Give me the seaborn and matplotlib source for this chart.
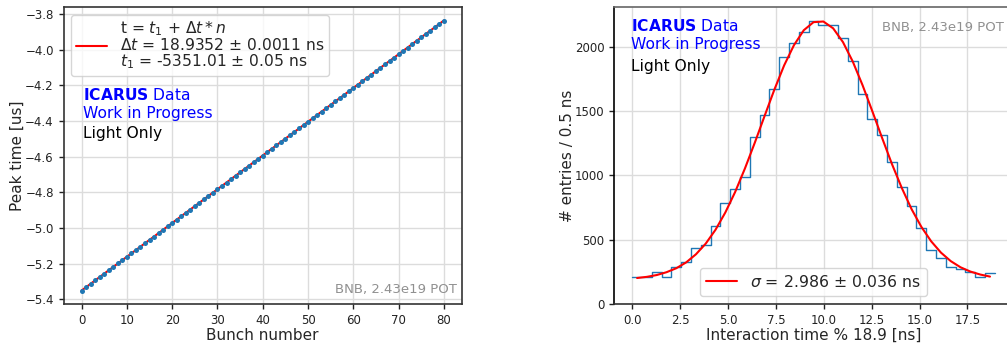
import numpy as np
import pandas as pd
import matplotlib
matplotlib.use("Agg")
import matplotlib.pyplot as plt
import seaborn as sns

# ---------------- data ----------------
bunch_number = list(range(0, 81))
peak_time_us = [
    -5.3510, -5.3321, -5.3131, -5.2942, -5.2753, -5.2563, -5.2374, -5.2185, -5.1995, -5.1806,
    -5.1617, -5.1427, -5.1238, -5.1049, -5.0859, -5.0670, -5.0481, -5.0291, -5.0102, -4.9912,
    -4.9723, -4.9534, -4.9344, -4.9155, -4.8966, -4.8776, -4.8587, -4.8398, -4.8208, -4.8019,
    -4.7830, -4.7640, -4.7451, -4.7262, -4.7072, -4.6883, -4.6693, -4.6504, -4.6315, -4.6125,
    -4.5936, -4.5747, -4.5557, -4.5368, -4.5179, -4.4989, -4.4800, -4.4611, -4.4421, -4.4232,
    -4.4042, -4.3853, -4.3664, -4.3474, -4.3285, -4.3096, -4.2906, -4.2717, -4.2528, -4.2338,
    -4.2149, -4.1960, -4.1770, -4.1581, -4.1392, -4.1202, -4.1013, -4.0824, -4.0634, -4.0445,
    -4.0255, -4.0066, -3.9877, -3.9687, -3.9498, -3.9309, -3.9119, -3.8930, -3.8741, -3.8551,
    -3.8362,
]
fit_time_us = list(peak_time_us)

hist_counts = [207, 207, 248, 212, 288, 324, 433, 458, 606, 782,
               892, 990, 1295, 1469, 1668, 1917, 2030, 2116, 2199,
               2168, 2168, 2069, 1888, 1629, 1435, 1313, 1101, 912, 761,
               593, 420, 355, 285, 272, 251, 212, 243]
hist_range_ns = (0.0, 18.9352)

gauss_fit = [202, 211, 225, 247, 278, 323, 386, 469, 577, 711,
             870, 1053, 1252, 1460, 1665, 1854, 2011, 2127, 2190,
             2195, 2142, 2035, 1884, 1700, 1497, 1289, 1087, 902, 737,
             599, 487, 399, 333, 285, 252, 229, 213]

left_legend = "t = $t_1$ + $\\Delta t*n$\n$\\Delta t$ = 18.9352 ± 0.0011 ns\n$t_1$ = -5351.01 ± 0.05 ns"
right_legend = "$\\sigma$ = 2.986 ± 0.036 ns"
pot_text = "BNB, 2.43e19 POT"

# ---------------- style ----------------
sns.set_style("ticks", {
    "axes.grid": True,
    "grid.color": "#dcdcdc",
    "axes.edgecolor": "#333333",
    "xtick.color": "#222222",
    "ytick.color": "#222222",
})
plt.rcParams["font.family"] = ["DejaVu Sans"]
plt.rcParams["grid.linewidth"] = 1.0
plt.rcParams["xtick.labelsize"] = 8.5
plt.rcParams["ytick.labelsize"] = 8.5
plt.rcParams["axes.labelsize"] = 11
plt.rcParams["axes.labelpad"] = 1.0

TXT = 11.2
W, H = 1007, 345
fig = plt.figure(figsize=(W / 100, H / 100), dpi=100)

# left panel
axL = fig.add_axes([63.5 / W, (H - 304) / H, 398.5 / W, 297 / H])
df_left = pd.DataFrame({"n": bunch_number, "t": peak_time_us, "fit": fit_time_us})
sns.lineplot(data=df_left, x="n", y="fit", color="red", lw=1.5, ax=axL, label=left_legend)
sns.scatterplot(data=df_left, x="n", y="t", color="#1f77b4", s=13, linewidth=0, ax=axL, zorder=3)
axL.set_xlabel("Bunch number")
axL.set_ylabel("Peak time [us]", labelpad=0)
axL.set_xticks(range(0, 81, 10))
yt = np.round(np.arange(-5.4, -3.79, 0.2), 1)
axL.set_yticks(yt)
axL.set_yticklabels([f"{v:.1f}".replace("-", "\u2212") for v in yt])
for s in axL.spines.values():
    s.set_color("#333333")
    s.set_linewidth(1.2)
leg = axL.legend(loc="upper left", fontsize=TXT, handlelength=2.0, frameon=True,
                 borderpad=0.3)
leg.get_frame().set_edgecolor("#cccccc")
for t in leg.get_texts():
    t.set_linespacing(0.95)
tr = axL.transAxes
axL.text(0.049, 0.687, r"$\mathbf{ICARUS}$ Data", color="blue", fontsize=TXT, transform=tr, va="baseline")
axL.text(0.049, 0.625, "Work in Progress", color="blue", fontsize=TXT, transform=tr, va="baseline")
axL.text(0.049, 0.558, "Light Only", color="black", fontsize=TXT, transform=tr, va="baseline")
axL.text(0.988, 0.038, pot_text, color="#909090", fontsize=9.5, transform=tr, ha="right", va="baseline")

# right panel
axR = fig.add_axes([614 / W, (H - 304) / H, 399 / W, 297.3 / H])
edges = [float(e) for e in np.linspace(hist_range_ns[0], hist_range_ns[1], len(hist_counts) + 1)]
centers = [0.5 * (a + b) for a, b in zip(edges[:-1], edges[1:])]
df_right = pd.DataFrame({"x": centers, "w": hist_counts, "fit": gauss_fit})
sns.histplot(data=df_right, x="x", weights="w", bins=edges, element="step", fill=False,
             color="#1f77b4", lw=1.0, ax=axR)
sns.lineplot(data=df_right, x="x", y="fit", color="red", lw=1.5, ax=axR, label=right_legend)
axR.set_xlabel("Interaction time % 18.9 [ns]")
axR.set_ylabel("# entries / 0.5 ns", labelpad=0)
axR.set_xticks(np.arange(0, 17.6, 2.5))
axR.set_yticks(range(0, 2001, 500))
axR.set_xlim(-0.95, 19.88)
axR.set_ylim(0, 2310)
for s in axR.spines.values():
    s.set_color("#333333")
    s.set_linewidth(1.2)
axR.spines["left"].set_color("black")
axR.spines["top"].set_color("#666666")
leg2 = axR.legend(loc="lower center", fontsize=11.3, handlelength=2.0, frameon=True)
leg2.get_frame().set_edgecolor("#cccccc")
tr = axR.transAxes
axR.text(0.042, 0.918, r"$\mathbf{ICARUS}$ Data", color="blue", fontsize=TXT, transform=tr, va="baseline")
axR.text(0.042, 0.857, "Work in Progress", color="blue", fontsize=TXT, transform=tr, va="baseline")
axR.text(0.042, 0.785, "Light Only", color="black", fontsize=TXT, transform=tr, va="baseline")
axR.text(0.977, 0.918, pot_text, color="#909090", fontsize=9.5, transform=tr, ha="right", va="baseline")

for ax in (axL, axR):
    ax.tick_params(direction="out", length=3.5, width=1.0)
    ax.set_axisbelow(True)

fig.savefig("out.png", dpi=100)
